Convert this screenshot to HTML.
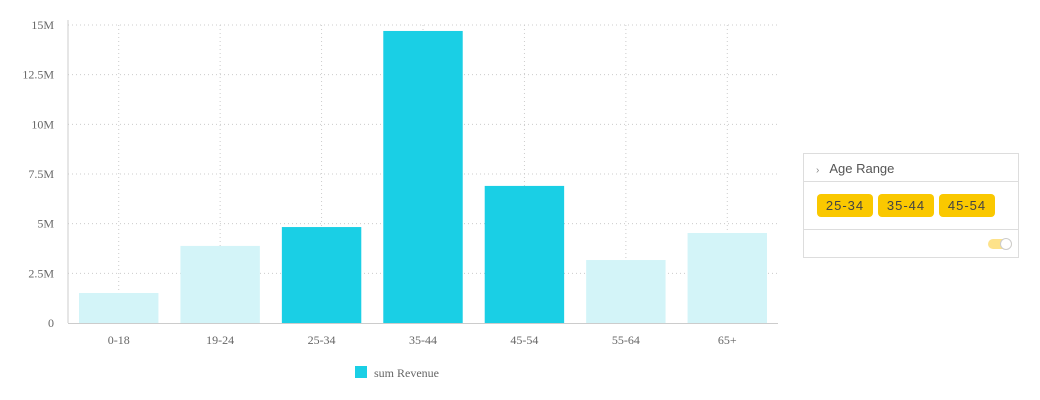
<!DOCTYPE html>
<html><head><meta charset="utf-8"><style>
body{margin:0;width:1040px;height:400px;background:#fff;overflow:hidden;position:relative;font-family:"Liberation Serif",serif}
#panel{position:absolute;left:803px;top:153px;width:214px;height:103px;border:1px solid #ddd;font-family:"Liberation Sans",sans-serif;background:#fff}
.hdr{height:27px;border-bottom:1px solid #ddd;font-size:13px;color:#555;line-height:30px;padding-left:12px}
.hdr span{font-size:10px;color:#888;margin-right:10px}
.tags{height:48px;border-bottom:1px solid #ddd;padding:12px 0 0 13px;box-sizing:border-box;display:flex;gap:5px}
.tag{display:block;width:56px;height:23px;line-height:23px;text-align:center;background:#fac800;color:#444;border-radius:4px;font-size:13px;letter-spacing:1px}
.tog{position:absolute;right:6px;bottom:8px;width:24px;height:10px;border-radius:5px;background:#fde28a}
.tog i{position:absolute;right:0;top:-1px;width:10px;height:10px;border-radius:50%;background:#fff;border:1px solid #ccc}
</style></head><body>
<svg id="chart" width="790" height="400" style="position:absolute;left:0;top:0"></svg>
<div id="panel">
<div class="hdr"><span>›</span>Age Range</div>
<div class="tags"><span class="tag">25-34</span><span class="tag">35-44</span><span class="tag">45-54</span></div>
<div class="tog"><i></i></div>
</div>
<script>
const categories=["0-18","19-24","25-34","35-44","45-54","55-64","65+"];
const revenue=[1.51,3.88,4.83,14.7,6.9,3.17,4.53];
const selected=[false,false,true,true,true,false,false];
const yTicks=[0,2.5,5,7.5,10,12.5,15];
const yTickLabels=["0","2.5M","5M","7.5M","10M","12.5M","15M"];
const svg=document.getElementById('chart');const NS="http://www.w3.org/2000/svg";
const x0=68,x1=778,y0=323,y1=25,bw=(x1-x0)/categories.length;
const y=v=>y0-(v/15)*(y0-y1);
function mk(t,a,p){const e=document.createElementNS(NS,t);for(const k in a)e.setAttribute(k,a[k]);(p||svg).appendChild(e);return e;}
yTicks.forEach((t,i)=>{
 if(t>0){const g=mk('line',{x1:x0,x2:x1,y1:y(t),y2:y(t),stroke:'#ccc','stroke-dasharray':'1,3'});
 
 }
 const l=mk('text',{x:54,y:y(t)+4,'text-anchor':'end','font-size':12,fill:'#666'});l.textContent=yTickLabels[i];
 
 
});
categories.forEach((c,i)=>{
 const cx=x0+bw*(i+0.5);
 const g=mk('line',{x1:cx,x2:cx,y1:y1,y2:y0,stroke:'#ccc','stroke-dasharray':'1,3'});
 
 
 const b=mk('rect',{x:x0+bw*i+11,width:bw-22,y:y(revenue[i]),height:y0-y(revenue[i]),fill:selected[i]?'#1acfe5':'#d3f4f8'});
 
 
 const t=mk('text',{x:cx,y:344,'text-anchor':'middle','font-size':12,fill:'#666'});t.textContent=c;
 
 
});
const ax=mk('line',{x1:x0,x2:x0,y1:y1-5,y2:y0,stroke:'#ccc'});


const bx=mk('line',{x1:x0,x2:x1,y1:y0+0.5,y2:y0+0.5,stroke:'#ccc'});


const ls=mk('rect',{x:355,y:366,width:12,height:12,fill:'#1acfe5'});


const lt=mk('text',{x:374,y:377,'font-size':12,fill:'#666'});lt.textContent='sum Revenue';


</script>
</body></html>
